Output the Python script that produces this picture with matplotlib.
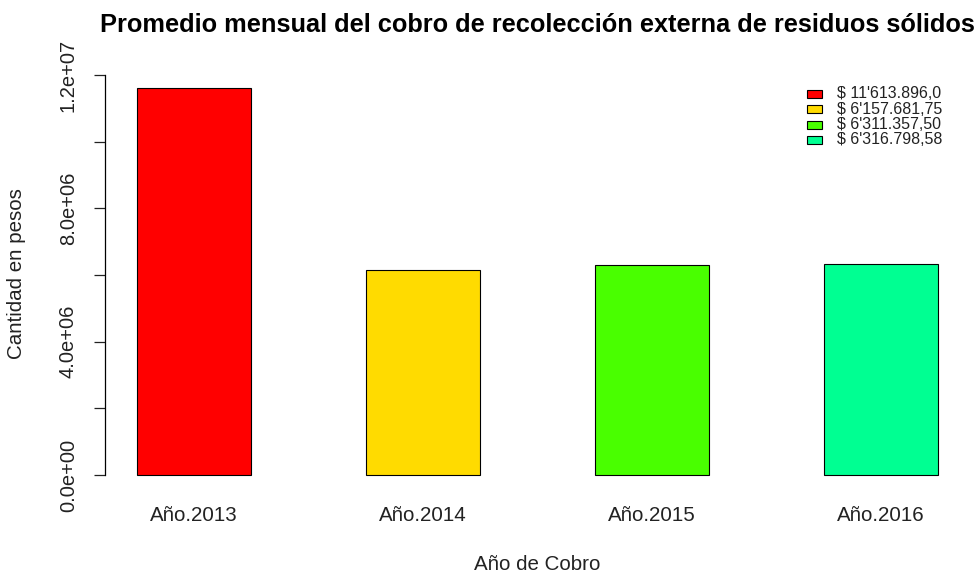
import matplotlib
matplotlib.use("Agg")
import matplotlib.pyplot as plt
from matplotlib.patches import Rectangle
from matplotlib.ticker import FixedLocator, FixedFormatter

plt.rcParams['font.family'] = ['Liberation Sans', 'DejaVu Sans']

categories = ["Año.2013", "Año.2014", "Año.2015", "Año.2016"]
values = [11613896.0, 6157681.75, 6311357.50, 6316798.58]
legend_labels = ["$ 11'613.896,0", "$ 6'157.681,75", "$ 6'311.357,50", "$ 6'316.798,58"]
colors = ["#FF0000", "#FFDB00", "#49FF00", "#00FF92"]
yticks = [0, 2e6, 4e6, 6e6, 8e6, 10e6, 12e6]
ytick_labels = ["0.0e+00", "", "4.0e+06", "", "8.0e+06", "", "1.2e+07"]

W, H = 975, 573
fig = plt.figure(figsize=(W / 100, H / 100), dpi=100)

# R barplot geometry: width 1, space 1
width, space = 1.0, 1.0
lefts = [space + i * (width + space) for i in range(len(values))]
centers = [l + width / 2 for l in lefts]
xmin_d, xmax_d = lefts[0], lefts[-1] + width
xr = xmax_d - xmin_d
xlim = (xmin_d - 0.04 * xr, xmax_d + 0.04 * xr)
ymax = max(values)
ylim = (-0.04 * ymax, ymax * 1.04)

# pixel placement of plot region
px_left, px_right = 105, 970
py_zero, py_12 = 475, 75
ppu = (py_zero - py_12) / 12e6
py_top = py_zero - ylim[1] * ppu
py_bot = py_zero - ylim[0] * ppu
ax = fig.add_axes([px_left / W, 1 - py_bot / H, (px_right - px_left) / W, (py_bot - py_top) / H])

ax.bar(lefts, values, width=width, align='edge', color=colors, edgecolor='black', linewidth=0.8)
ax.set_xlim(*xlim)
ax.set_ylim(*ylim)

for s in ['top', 'right', 'bottom']:
    ax.spines[s].set_visible(False)
ax.spines['left'].set_bounds(0, 12e6)
ax.spines['left'].set_linewidth(0.9)

ax.yaxis.set_major_locator(FixedLocator(yticks))
ax.yaxis.set_major_formatter(FixedFormatter(ytick_labels))
ax.tick_params(axis='y', length=8, width=0.9, pad=11.5, labelsize=14.5, labelrotation=90, colors='#222222')
for lab in ax.get_yticklabels():
    lab.set_va('center')

ax.set_xticks(centers)
ax.set_xticklabels(categories)
ax.tick_params(axis='x', length=0, pad=11, labelsize=14.8, colors='#222222')

fig.text((px_left + px_right) / 2 / W, 1 - 565 / H, "Año de Cobro", ha='center', va='center', fontsize=14.8, color='#222222')
fig.text(17 / W, 1 - 274 / H, "Cantidad en pesos", ha='center', va='center', rotation=90, fontsize=14.8, color='#222222')
fig.text((px_left + px_right) / 2 / W, 1 - 25 / H, "Promedio mensual del cobro de recolección externa de residuos sólidos",
         ha='center', va='center', fontsize=18.3, fontweight='bold', color='black')

# legend (R style, top-right)
row_y = [93.5, 109, 124.5, 140]
for ry, lab, col in zip(row_y, legend_labels, colors):
    fig.patches.append(Rectangle((807 / W, 1 - (ry + 4) / H), 15 / W, 8 / H, transform=fig.transFigure,
                                 facecolor=col, edgecolor='black', linewidth=0.8, figure=fig))
    fig.text(837 / W, 1 - ry / H, lab, ha='left', va='center', fontsize=11.5, color='#222222')

fig.savefig("out.png", dpi=100)
